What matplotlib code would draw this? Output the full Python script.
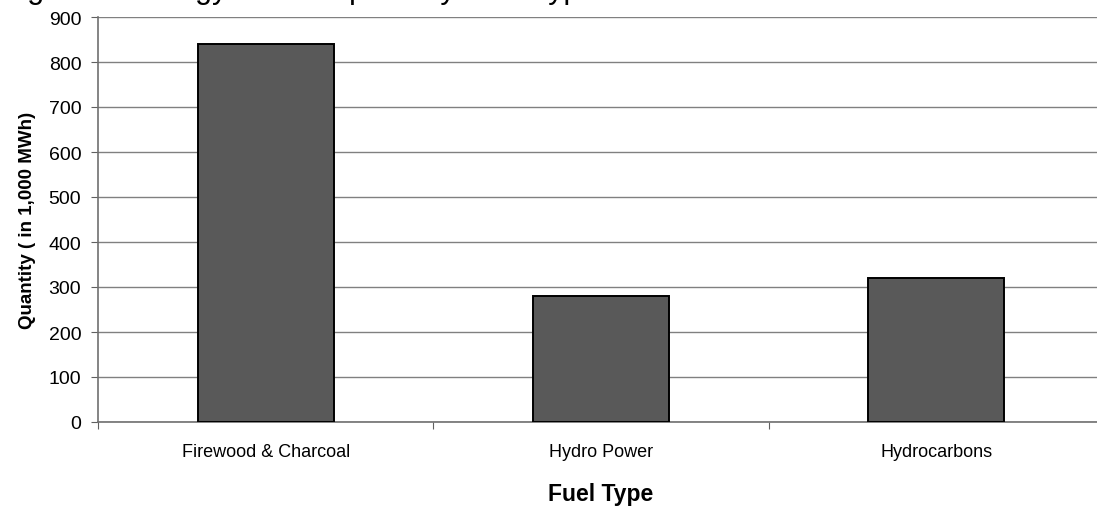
import numpy as np
import matplotlib.pyplot as plt

plt.rcParams['font.family'] = ['Liberation Sans', 'DejaVu Sans']

fuel_types = ['Firewood & Charcoal', 'Hydro Power', 'Hydrocarbons']
quantity = [840, 280, 320]   # 1,000 MWh
y_ticks = np.arange(0, 901, 100)

W, H = 1097, 510
fig = plt.figure(figsize=(W / 100, H / 100), dpi=100)

# plot area runs a little past the right edge of the figure
ax = fig.add_axes([98 / W, (H - 423) / H, 1006 / W, 405 / H])

x = np.arange(len(fuel_types))
ax.bar(x, quantity, width=0.406, color='#595959', edgecolor='black',
       linewidth=1.4, zorder=3)

ax.set_xlim(-0.5, len(fuel_types) - 0.5)
ax.set_ylim(0, 900)
ax.set_yticks(y_ticks)
ax.yaxis.grid(True, color='#808080', linewidth=1.0, zorder=0)

# category ticks sit on the boundaries between groups
ax.set_xticks(np.arange(len(fuel_types) + 1) - 0.5)
ax.set_xticklabels([])
ax.set_xticks(x, minor=True)
ax.set_xticklabels(fuel_types, minor=True, fontsize=13)
ax.tick_params(axis='x', which='minor', length=0, pad=15)
ax.tick_params(axis='x', which='major', length=5, color='#606060', direction='out')
ax.tick_params(axis='y', length=5, color='#606060', labelsize=14, pad=7)

for side in ['top', 'right']:
    ax.spines[side].set_visible(False)
for side in ['left', 'bottom']:
    ax.spines[side].set_color('#707070')
    ax.spines[side].set_linewidth(1.2)

ax.set_ylabel('Quantity ( in 1,000 MWh)', fontsize=13.5, fontweight='bold', labelpad=9)
ax.set_xlabel('Fuel Type', fontsize=16.5, fontweight='bold', labelpad=16)

# title sits mostly above the top edge, only descenders show
fig.text(2 / W, 1 + 2 / H, 'Figure 3: Energy Consumption by Fuel Type',
         fontsize=22, va='baseline', ha='left')

fig.savefig('out.png', dpi=100)
